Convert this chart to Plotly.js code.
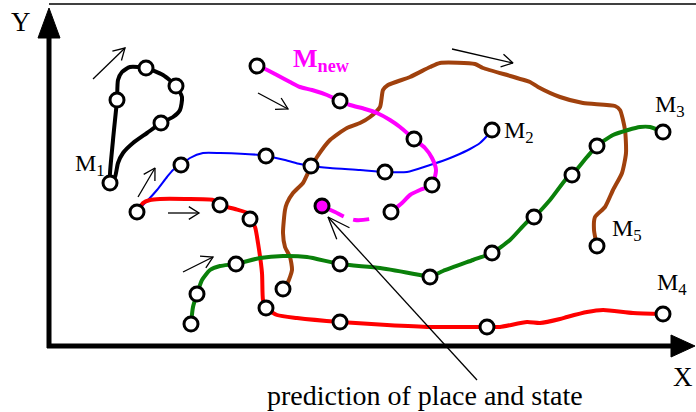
<!DOCTYPE html>
<html><head><meta charset="utf-8">
<script src="https://cdn.plot.ly/plotly-3.0.1.min.js"></script>
<style>html,body{margin:0;padding:0;background:#fff}#chart{width:696px;height:412px}</style>
</head><body><div id="chart"></div>
<script>
// ---- trajectory M1 (black loop)
const m1X = [110,113,117,118,122,130,146,163,176,182,180,173,161,147,133,123,118,115,110];
const m1Y = [183,140,100,80,72,67,68,75,86,97,110,117,123,133,143,153,163,177,183];
const m1PtX = [110,117,146,176,161];
const m1PtY = [183,100,68,86,123];
// ---- trajectory M2 (blue)
const m2X = [137,142,148,157,167,173,181,190,203,220,260,266,285,300,311,330,360,385,407,430,445,455,470,480,487,492];
const m2Y = [212,206,200,190,177,170,165,158,153,153,155,156,160,164,166,168,170,172,172,165,160,156,149,143,136,130];
const m2PtX = [137,181,266,311,385,492];
const m2PtY = [212,165,156,166,172,130];
// ---- trajectory M4 (red)
const m4X = [137,143,150,160,185,213,220,235,247,250,255,258,262,263,266,277,297,340,387,430,460,487,500,527,540,560,567,587,603,633,663];
const m4Y = [212,203,200,199,199,200,205,209,213,219,227,243,273,300,308,315,318,322,325,327,327,327,327,322,323,319,317,312,310,313,314];
const m4PtX = [220,250,266,340,487,663];
const m4PtY = [205,219,308,322,327,314];
// ---- trajectory M3 (green)
const m3X = [191,193,197,202,210,220,236,260,283,307,340,380,420,430,443,473,492,510,527,534,550,567,572,587,597,613,628,640,650,663];
const m3Y = [324,307,294,280,270,266,264,258,256,257,264,268,275,277,271,260,253,240,222,217,200,178,175,157,146,135,130,127,127,132];
const m3PtX = [191,197,236,340,430,492,534,572,597,663];
const m3PtY = [324,294,264,264,277,253,217,175,146,132];
// ---- trajectory M5 (brown)
const m5X = [283,288,292,290,285,283,285,287,293,303,308,317,330,347,360,370,380,383,388,410,430,440,475,483,530,538,560,583,615,620,625,626,622,613,605,595,594,597];
const m5Y = [289,282,270,257,247,233,210,203,193,183,173,157,140,128,123,117,107,90,85,77,67,63,64,68,82,87,97,103,106,110,130,153,173,190,207,217,230,246];
const m5PtX = [283,597];
const m5PtY = [289,246];
// ---- new object Mnew (magenta)
const mnX = [257,263,275,290,300,312,327,340,350,365,377,390,400,414,425,432,436,432,420,410,402,391];
const mnY = [66,68,74,82,87,90,95,101,105,109,113,120,127,139,148,158,170,185,190,195,203,212];
const mnPtX = [257,340,414,432,391];
const mnPtY = [66,101,139,185,212];
const predX = [322,335,345,355,370,391];
const predY = [206,212,217,220,219,212];
const predPtX = [322];
const predPtY = [206];
// ---- direction arrows
const arrX0 = [93,138,168,183,258,452,477];
const arrY0 = [79,197,213,272,93,49,380];
const arrX1 = [125,155,199,213,288,513,328];
const arrY1 = [48,168,213,257,109,63,217];
const arrHead = [13,13,12,13,13,13,24];
const arrAngle = [30,30,32,30,30,30,21];
// ---- labels
const labText = ['M<sub>1</sub>','M<sub>2</sub>','M<sub>3</sub>','M<sub>4</sub>','M<sub>5</sub>'];
const labX = [73,502,653,655,610];
const labY = [165,132,106,284,230];

const traces = [];
function line(x,y,color,w,dash){
  traces.push({type:'scatter',mode:'lines',x:x,y:y,hoverinfo:'skip',
    line:{color:color,width:w,shape:'spline',smoothing:0.6,dash:dash||'solid'}});
}
line(m1X,m1Y,'#000000',4);
line(m5X,m5Y,'#a0410d',4);
line(m2X,m2Y,'#0000ff',2);
line(m4X,m4Y,'#ff0000',4);
line(m3X,m3Y,'#0a800a',4);
line(mnX,mnY,'#ff00ff',4);
line(predX,predY,'#ff00ff',4,'24px,10px,16px,60px');

// arrows
const ax=[], ay=[];
for(let i=0;i<arrX0.length;i++){
  const dx=arrX1[i]-arrX0[i], dy=arrY1[i]-arrY0[i];
  const L=Math.hypot(dx,dy), ux=dx/L, uy=dy/L;
  const t=arrAngle[i]*Math.PI/180, h=arrHead[i];
  const c=Math.cos(t), s=Math.sin(t);
  const b1x=arrX1[i]-h*(ux*c-uy*s), b1y=arrY1[i]-h*(ux*s+uy*c);
  const b2x=arrX1[i]-h*(ux*c+uy*s), b2y=arrY1[i]-h*(-ux*s+uy*c);
  ax.push(arrX0[i],arrX1[i],null,b1x,arrX1[i],b2x,null);
  ay.push(arrY0[i],arrY1[i],null,b1y,arrY1[i],b2y,null);
}
traces.push({type:'scatter',mode:'lines',x:ax,y:ay,hoverinfo:'skip',line:{color:'#000',width:1.3}});

function pts(x,y,fill){
  traces.push({type:'scatter',mode:'markers',x:x,y:y,hoverinfo:'skip',
    marker:{symbol:'circle',size:14,color:fill||'#ffffff',line:{color:'#000',width:3}}});
}
pts(m1PtX,m1PtY); pts(m2PtX,m2PtY); pts(m4PtX,m4PtY); pts(m3PtX,m3PtY);
pts(m5PtX,m5PtY); pts(mnPtX,mnPtY); pts(predPtX,predPtY,'#ff00ff');

const font = {family:'Liberation Serif, Times New Roman, serif',color:'#000'};
const annotations = [];
for(let i=0;i<labText.length;i++){
  annotations.push({x:labX[i],y:labY[i],xref:'x',yref:'y',text:labText[i],showarrow:false,
    xanchor:'left',yanchor:'middle',font:Object.assign({size:24},font)});
}
annotations.push({x:291,y:60,xref:'x',yref:'y',text:'<b>M<sub>new</sub></b>',showarrow:false,
  xanchor:'left',yanchor:'middle',font:{family:font.family,size:26,color:'#ff00ff'}});
annotations.push({x:21,y:22,xref:'x',yref:'y',text:'Y',showarrow:false,xanchor:'center',yanchor:'middle',font:Object.assign({size:27},font)});
annotations.push({x:683,y:377,xref:'x',yref:'y',text:'X',showarrow:false,xanchor:'center',yanchor:'middle',font:Object.assign({size:27},font)});
annotations.push({x:425,y:395,xref:'x',yref:'y',text:'prediction of place and state',showarrow:false,xanchor:'center',yanchor:'middle',font:Object.assign({size:28},font)});

const shapes = [
  {type:'line',xref:'x',yref:'y',x0:49,y0:4,x1:696,y1:4,line:{color:'#000',width:1.5}},
  {type:'line',xref:'x',yref:'y',x0:49,y0:348,x1:49,y1:30,line:{color:'#000',width:5}},
  {type:'line',xref:'x',yref:'y',x0:47,y0:346,x1:676,y1:346,line:{color:'#000',width:5}},
  {type:'path',xref:'x',yref:'y',path:'M49,8 L38,38 L60,38 Z',fillcolor:'#000',line:{color:'#000',width:1}},
  {type:'path',xref:'x',yref:'y',path:'M695,346 L671,335 L671,357 Z',fillcolor:'#000',line:{color:'#000',width:1}}
];

Plotly.newPlot('chart',traces,{
  width:696,height:412,margin:{l:0,r:0,t:0,b:0},
  paper_bgcolor:'#fff',plot_bgcolor:'#fff',showlegend:false,
  xaxis:{range:[0,696],visible:false,fixedrange:true},
  yaxis:{range:[412,0],visible:false,fixedrange:true},
  shapes:shapes,annotations:annotations
},{staticPlot:true});
</script></body></html>
